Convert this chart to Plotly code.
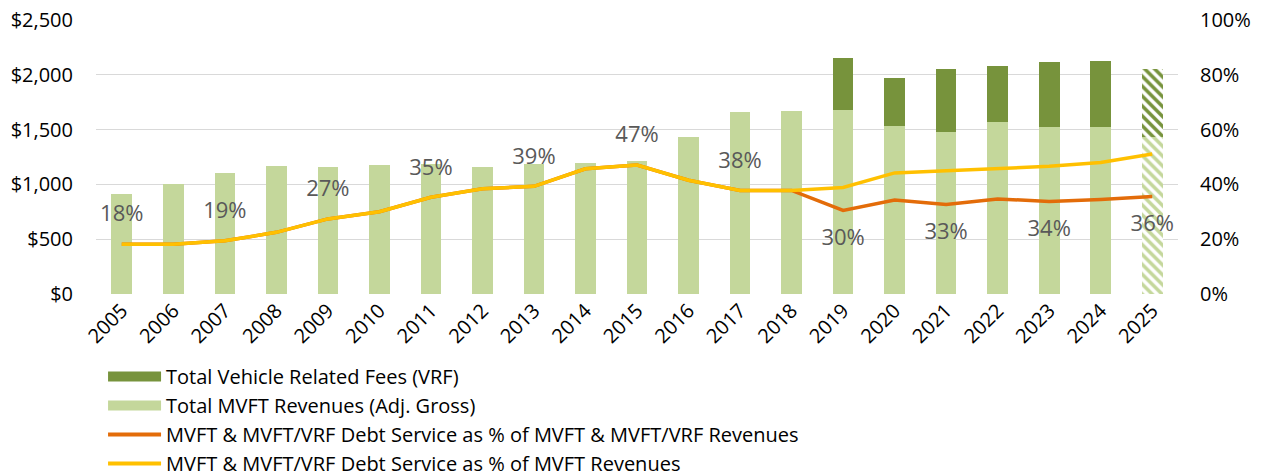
import plotly.graph_objects as go

years = [str(y) for y in range(2005, 2026)]
mvft_rev = [912, 1006, 1107, 1168, 1162, 1177, 1190, 1162, 1183, 1195, 1216, 1432, 1657, 1670,
            1682, 1536, 1481, 1572, 1527, 1527, 1432]
vrf_fees = [None] * 14 + [474, 438, 575, 511, 593, 602, 621]
pct_mvft_vrf = [18.2, 18.2, 19.4, 22.5, 27.4, 30.0, 35.3, 38.4, 39.3, 45.7, 47.1, 41.5, 37.8, 37.8,
                30.5, 34.3, 32.7, 34.7, 33.8, 34.5, 35.6]
pct_mvft = [18.2, 18.2, 19.4, 22.5, 27.4, 30.0, 35.3, 38.4, 39.3, 45.7, 47.1, 41.5, 37.8, 37.8,
            38.9, 44.2, 45.0, 45.7, 46.6, 48.0, 51.1]
label_years = ["2005", "2007", "2009", "2011", "2013", "2015", "2017", "2019", "2021", "2023", "2025"]
projected_years = ["2025"]

LIGHT = "#c4d79b"
DARK = "#77933c"
ORANGE = "#e36c09"
YELLOW = "#ffc000"
FONT = "Open Sans"

pattern_shapes = ["\\" if y in projected_years else "" for y in years]
labels = [f"{round(v)}%" if y in label_years else "" for y, v in zip(years, pct_mvft_vrf)]
above = [int(y) < 2019 for y in years]
text_pos = ["top center" if a else "bottom center" for a in above]
marker_sizes = [26 if a else 28 for a in above]

fig = go.Figure()
fig.add_trace(go.Bar(
    x=years, y=mvft_rev, name="Total MVFT Revenues (Adj. Gross)", showlegend=False,
    marker=dict(color=LIGHT, line=dict(width=0),
                pattern=dict(shape=pattern_shapes, fgcolor=LIGHT, bgcolor="white",
                             size=7, solidity=0.5, fillmode="replace")),
))
fig.add_trace(go.Bar(
    x=years, y=vrf_fees, name="Total Vehicle Related Fees (VRF)", showlegend=False,
    marker=dict(color=DARK, line=dict(width=0),
                pattern=dict(shape=pattern_shapes, fgcolor=DARK, bgcolor="white",
                             size=7, solidity=0.5, fillmode="replace")),
))
fig.add_trace(go.Scatter(
    x=years, y=[v / 100 for v in pct_mvft_vrf], yaxis="y2", mode="lines+markers+text",
    name="MVFT & MVFT/VRF Debt Service as % of MVFT & MVFT/VRF Revenues", showlegend=False,
    line=dict(color=ORANGE, width=3.5),
    marker=dict(size=marker_sizes, color="rgba(0,0,0,0)", line=dict(width=0, color="rgba(0,0,0,0)")),
    text=labels, textposition=text_pos,
    textfont=dict(family=FONT, size=22, color="#595959"),
    cliponaxis=False,
))
fig.add_trace(go.Scatter(
    x=years, y=[v / 100 for v in pct_mvft], yaxis="y2", mode="lines",
    name="MVFT & MVFT/VRF Debt Service as % of MVFT Revenues", showlegend=False,
    line=dict(color=YELLOW, width=3.5),
))

# legend entries
legend_items = [
    ("Total Vehicle Related Fees (VRF)", DARK, 13),
    ("Total MVFT Revenues (Adj. Gross)", LIGHT, 13),
    ("MVFT & MVFT/VRF Debt Service as % of MVFT & MVFT/VRF Revenues", ORANGE, 4),
    ("MVFT & MVFT/VRF Debt Service as % of MVFT Revenues", YELLOW, 4),
]
for i, (nm, col, w) in enumerate(legend_items):
    fig.add_trace(go.Scatter(x=[None], y=[None], mode="lines", name=nm,
                             line=dict(color=col, width=w), legendrank=i + 1))

# page body adds an 8px margin; the figure is sized so the whole page fills 1262x473
fig.update_layout(
    width=1254, height=465,
    margin=dict(l=88, r=84, t=12, b=179, autoexpand=False),
    paper_bgcolor="white", plot_bgcolor="white",
    barmode="stack", bargap=0.6,
    font=dict(family=FONT, size=20, color="#000000"),
    xaxis=dict(type="category", range=[-0.5, len(years) - 0.5], tickangle=-45,
               showgrid=False, ticks="", automargin=False, ticklabeloverflow="allow",
               tickfont=dict(size=20, color="#000000")),
    yaxis=dict(range=[0, 2500], dtick=500, tickprefix="$", tickformat=",d", automargin=False,
               showgrid=True, gridcolor="#d9d9d9", gridwidth=1.3, zeroline=False,
               showline=False, ticks="", ticklabelstandoff=22, ticklabeloverflow="allow",
               tickfont=dict(size=20, color="#000000")),
    yaxis2=dict(range=[0, 1], dtick=0.2, tickformat=".0%", overlaying="y", side="right",
                automargin=False, ticklabeloverflow="allow",
                showgrid=False, zeroline=False, ticks="", ticklabelstandoff=21,
                tickfont=dict(size=20, color="#000000")),
    legend=dict(xref="container", yref="container", x=0.0758, y=0.2496,
                xanchor="left", yanchor="top", orientation="v", itemwidth=53,
                font=dict(family=FONT, size=20, color="#000000"),
                bgcolor="rgba(0,0,0,0)", traceorder="normal"),
    showlegend=True,
)

fig.write_html("out.html")
